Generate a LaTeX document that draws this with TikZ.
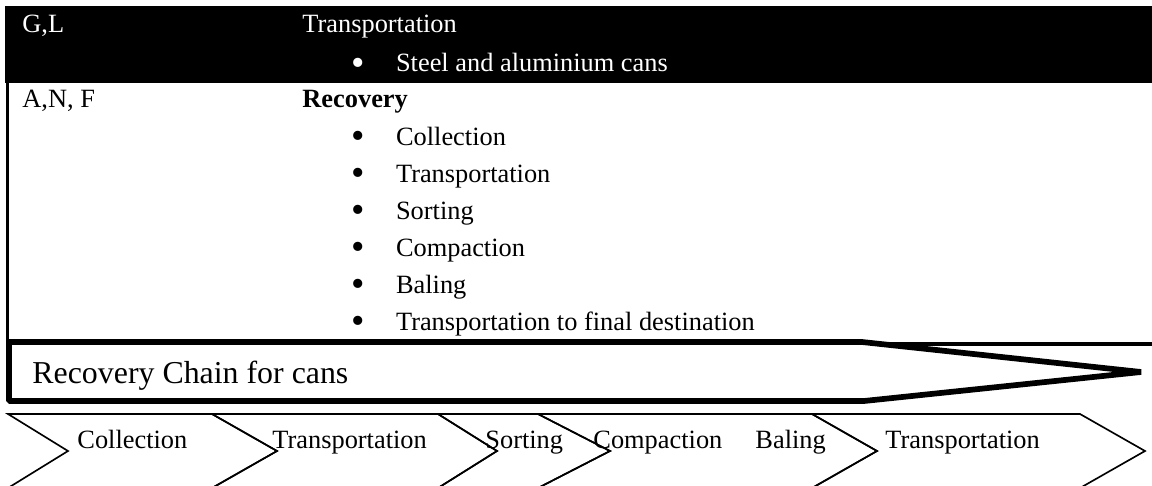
\documentclass[tikz,border=0pt]{standalone}
\usepackage{fontspec}
\setmainfont{Liberation Serif}
\usepackage{graphicx}
\usepackage{tikz}
\usetikzlibrary{positioning,calc}
\definecolor{band}{HTML}{000000}
\definecolor{rule}{HTML}{000000}
\tikzset{
  celltext/.style={anchor=base west, inner sep=0pt,
    font=\fontsize{12}{14}\selectfont, text=#1},
  celltext/.default=black,
  chainlabel/.style={anchor=base west, inner sep=0pt,
    font=\fontsize{14.5}{17}\selectfont},
  stagelabel/.style={anchor=base west, inner sep=0pt,
    font=\fontsize{12}{14}\selectfont},
  chainarrow/.style={draw=rule, line width=2.6pt, line join=bevel, fill=white},
  chevron/.style={draw=rule, line width=0.75pt, line join=miter},
  tablerule/.style={draw=rule, line width=1.4pt},
}
\newcommand{\bulletrow}[1]{\makebox[20.3pt][l]{\raisebox{-0.14em}{\scalebox{1.45}{\textbullet}}}#1}

\begin{document}
\begin{tikzpicture}[x=0.455pt, y=-0.455pt]
    \useasboundingbox (0,0) rectangle (1152,485);
    \clip (0,0) rectangle (1152,485);
    % black header row
    \fill[band] (5,6) rectangle (1152,83);
    \node[celltext=white] (glcode) at (22,33) {G,L};
    \node[celltext=white] (transhead) at (302,33) {Transportation};
    \node[celltext=white] (cansitem) at (351,72) {\bulletrow{Steel and aluminium cans}};
    % recovery row
    \draw[tablerule] (7.5,83) -- (7.5,344) -- (1152,344);
    \node[celltext] (anfcode) at (22,108) {A,N, F};
    \node[celltext] (rechead) at (302,108) {\textbf{Recovery}};
    \foreach \stage [count=\i] in {Collection, Transportation, Sorting, Compaction, Baling, Transportation to final destination}
        \node[celltext] (recitem\i) at (351,108+37*\i) {\bulletrow{\stage}};
    % chain arrow
    \draw[chainarrow] (9,342) -- (862,342) -- (1141,372) -- (864,401) -- (9,401) -- cycle;
    \node[chainlabel] (chaintitle) at (32,383) {Recovery Chain for cans};
    % chevrons
    \foreach \l/\n/\r/\p in {8/68/212/277, 212/277/438/497, 438/497/538/610, 538/610/812/877, 812/877/1080/1145}
        \draw[chevron] (\l,414) -- (\r,414) -- (\p,451) -- (\r,488) -- (\l,488) -- (\n,451) -- cycle;
    \foreach \x/\stage [count=\i] in {77/Collection, 272/Transportation, 485/Sorting, 593/Compaction, 755/Baling, 885/Transportation}
        \node[stagelabel] (stage\i) at (\x,448) {\stage};
\end{tikzpicture}
\end{document}
